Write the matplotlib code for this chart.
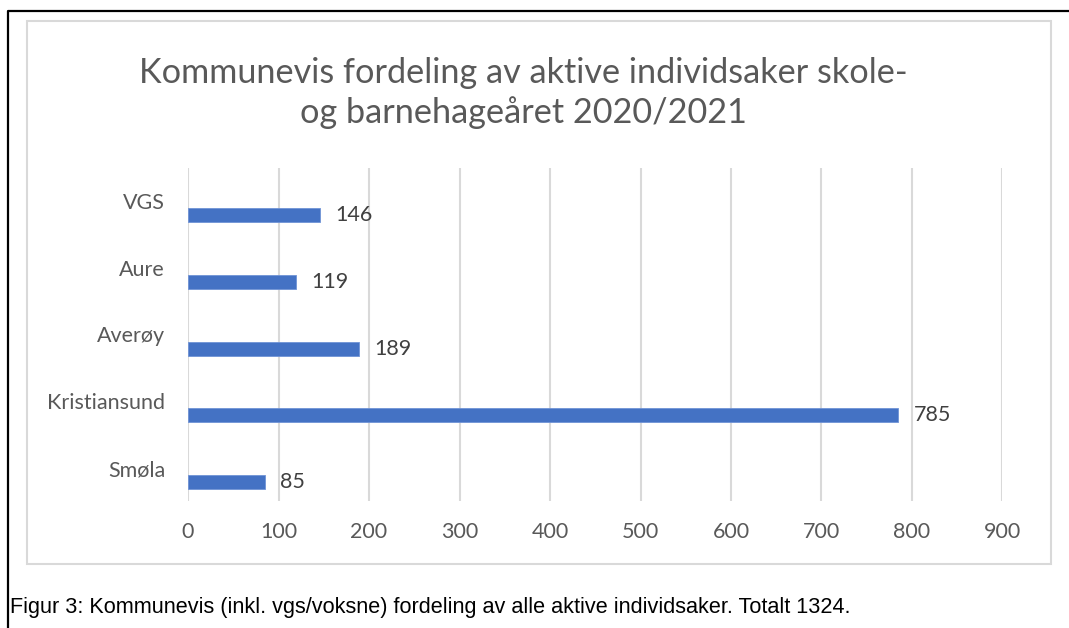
import matplotlib
matplotlib.use("Agg")
import matplotlib.pyplot as plt
from matplotlib.patches import Rectangle
from matplotlib.lines import Line2D

# data (top to bottom as shown)
kategorier = ["VGS", "Aure", "Averøy", "Kristiansund", "Smøla"]
saker = [146, 119, 189, 785, 85]
xticks = [0, 100, 200, 300, 400, 500, 600, 700, 800, 900]

tittel = "Kommunevis fordeling av aktive individsaker skole-\nog barnehageåret 2020/2021"
figurtekst = "Figur 3: Kommunevis (inkl. vgs/voksne) fordeling av alle aktive individsaker. Totalt 1324."

W, H = 1069, 628
fig = plt.figure(figsize=(W / 100, H / 100), dpi=100)

# akse i pikselkoordinater
x0, x1, y0, y1 = 188, 1002.5, 167.6, 501.4
ax = fig.add_axes([x0 / W, 1 - y1 / H, (x1 - x0) / W, (y1 - y0) / H])

pos = list(range(len(kategorier)))
offset = 0.21  # Excel-stolpe forskjøvet under kategorimidten
ax.barh([p + offset for p in pos], saker, height=0.21, color="#4472C4",
        edgecolor="#6f93d6", linewidth=0.6, zorder=3)
for p, v in zip(pos, saker):
    ax.text(v + 17, p + offset, str(v), va="center", ha="left",
            fontsize=15.5, color="#404040", family="Lato")

ax.set_ylim(len(kategorier) - 0.5, -0.5)
ax.set_xlim(0, 900)
ax.set_yticks(pos)
ax.set_yticklabels(kategorier, family="Lato", fontsize=15.5, color="#595959")
ax.set_xticks(xticks)
ax.set_xticklabels([str(t) for t in xticks], family="Lato", fontsize=15.5, color="#595959")
ax.tick_params(axis="both", length=0)
ax.tick_params(axis="y", pad=16.5)
ax.tick_params(axis="x", pad=15)
ax.grid(axis="x", color="#d9d9d9", linewidth=1.5, zorder=0)
for s in ax.spines.values():
    s.set_visible(False)

fig.text(523 / W, 1 - 93 / H, tittel, ha="center", va="center", fontsize=24.7,
         color="#595959", family="Lato", linespacing=1.27)

# ramme rundt diagrammet
fig.patches.append(Rectangle((27 / W, 1 - 564 / H), (1051 - 27) / W, (564 - 21) / H,
                             transform=fig.transFigure, fill=False,
                             edgecolor="#d9d9d9", linewidth=1.5))
# ytre svart ramme (venstre og topp)
fig.lines.append(Line2D([7.5 / W, 7.5 / W, 1.0], [0.0, 1 - 11 / H, 1 - 11 / H],
                        transform=fig.transFigure, color="black", linewidth=1.6))

fig.text(10 / W, 1 - 613 / H, figurtekst, ha="left", va="baseline", fontsize=15.6,
         color="black", family="Liberation Sans")

fig.savefig("out.png", dpi=100)
